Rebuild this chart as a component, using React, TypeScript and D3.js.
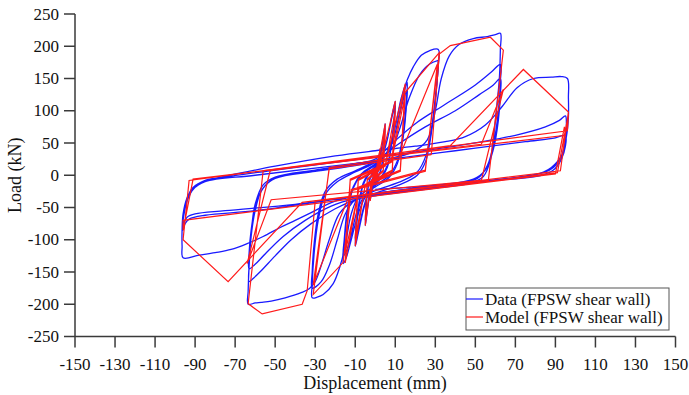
import React from 'react';
import * as d3 from 'd3';

type Pt = [number, number];

const xTicks = [-150, -130, -110, -90, -70, -50, -30, -10, 10, 30, 50, 70, 90, 110, 130, 150];
const yTicks = [-250, -200, -150, -100, -50, 0, 50, 100, 150, 200, 250];

// measured data (blue), split by amplitude group
const blueSmall: Pt[] = [
  [0, 0], [1, 18], [2, 32], [2.5, 40], [2.2, 24], [1.5, 8], [0, -2], [-1, -15], [-2, -30], [-2.5, -38],
  [-2.2, -22], [-1.5, -6], [0, 3], [1, 16], [2, 31], [2.5, 38], [2.2, 22], [1.5, 7], [0, -4], [-2, -20],
  [-3.5, -45], [-4.5, -68], [-5, -78], [-4.6, -55], [-3.8, -25], [-2.5, -5], [0, 8], [2, 22], [3.5, 46],
  [4.5, 70], [5, 80], [4.6, 58], [3.8, 28], [2.5, 6], [0, -8], [-2, -22], [-3.5, -44], [-4.5, -66], [-5, -74],
  [-4.6, -50], [-3.8, -22], [-2.5, -4], [0, 10], [2, 24], [3.5, 48], [4.6, 70], [5, 76], [4.6, 55], [3.8, 25],
  [2.5, 5], [0, -10], [-3, -25], [-6, -55], [-8.5, -90], [-10, -110], [-9.5, -85], [-8, -45], [-6, -15],
  [-3, 2], [0, 12], [3, 25], [6, 55], [8.5, 95], [10, 115], [9.5, 90], [8, 48], [6, 15], [3, -2], [0, -12],
  [-3, -24], [-6, -52], [-8.5, -85], [-10, -102], [-9.5, -78], [-8, -40], [-6, -12], [-3, 4], [0, 14], [3, 27],
  [6, 56], [8.5, 92], [10, 108],
];

const blue15: Pt[] = [
  [10, 108], [9.5, 84], [8, 45], [6, 12], [3, -4], [0, -14], [-4, -28], [-8, -55], [-12, -100], [-14.5, -128],
  [-16, -137], [-15.5, -110], [-14, -60], [-11, -20], [-7, 0], [0, 16], [5, 30], [9, 55], [12, 95], [14.5, 130],
  [16, 144], [15.5, 115], [14, 65], [11, 22], [7, 0], [0, -16], [-5, -30], [-9, -55], [-12, -92], [-14.5, -118],
  [-16, -125], [-15.5, -100], [-14, -55], [-11, -18], [-7, 2], [0, 18], [5, 32], [9, 56], [12, 92], [14.5, 122],
  [16, 132],
];

const blue30: Pt[] = [
  [16, 132], [15.5, 105], [14, 60], [11, 18], [7, -3], [0, -18], [-8, -32], [-12, -60], [-15, -110],
  [-17.5, -140], [-21, -168], [-26, -185], [-29, -189], [-31.5, -190], [-31.5, -170], [-30.5, -120],
  [-28.5, -70], [-25, -30], [-19, -10], [-10, 5], [0, 20], [7, 40], [10, 75], [13, 120], [16, 148], [19, 168],
  [23, 186], [27, 193], [31.5, 195], [31.5, 170], [30, 120], [28, 70], [25.5, 32], [21, 5], [14, -8], [0, -24],
  [-10, -38], [-15, -60], [-19, -100], [-23, -140], [-27, -165], [-31.5, -175], [-31.5, -150], [-30.5, -105],
  [-28.5, -60], [-25, -25], [-19, -6], [-10, 7], [0, 22], [8, 40], [12, 70], [17, 120], [22, 155], [27, 172],
  [31.5, 178],
];

const blue60: Pt[] = [
  [31.5, 178], [31, 150], [29.5, 100], [27.5, 55], [25, 20], [21, 0], [12, -15], [0, -28], [-12, -42],
  [-18, -60], [-23, -100], [-27, -140], [-30, -165], [-33, -176], [-37, -182], [-45, -190], [-52, -195],
  [-57, -197], [-60, -198], [-63.5, -200],
  [-63.5, -180], [-63, -140], [-62, -95], [-60, -55], [-57, -25], [-52, -8], [-45, 0], [-30, 8], [-10, 17],
  [5, 25], [18, 35], [26, 55], [30, 100], [33, 150], [37, 185], [42, 203], [49, 212], [56, 215], [60, 218],
  [62.5, 220],
  [62.5, 195], [62, 150], [61, 116], [59.5, 70], [57.5, 23], [54, -2], [48, -12], [30, -20], [0, -32],
  [-10, -38], [-20, -52], [-32, -75], [-42, -100], [-50, -125], [-57, -148], [-61, -160], [-63, -165],
  [-63, -140], [-62, -90], [-60, -45], [-56, -15], [-50, -3], [-30, 8], [-10, 18], [0, 25], [8, 48], [20, 80],
  [35, 110], [50, 140], [58, 160], [62.5, 172],
  [62.5, 145], [61.5, 100], [59.5, 55], [56, 15], [51, -5], [30, -18], [0, -30], [-10, -36], [-22, -48],
  [-35, -70], [-46, -95], [-55, -122], [-60, -138], [-63, -145],
  [-63, -120], [-62, -85], [-60, -50], [-56, -20], [-50, -5], [-30, 6], [-10, 15], [0, 22], [10, 45], [25, 75],
  [40, 100], [52, 125], [59, 140], [62.5, 150],
  [62.5, 125], [61.5, 85], [59, 40], [55, 8], [49, -6], [30, -16], [0, -28],
];

const blue95: Pt[] = [
  [0, -28], [-20, -40], [-32, -58], [-40, -70], [-47.5, -81], [-56, -95], [-64, -106], [-72, -115], [-80, -120],
  [-88, -124], [-96, -128],
  [-96.5, -110], [-96.5, -85], [-96, -60], [-94, -35], [-91, -19], [-85, -8], [-79, -4], [-50, 14], [-20, 30],
  [0, 38], [20, 45], [35, 52], [45, 60], [55, 78], [63, 105], [71, 136], [79, 150], [88, 152], [93, 153],
  [96, 150],
  [96.5, 120], [96.5, 90], [95.5, 60], [93, 30], [88, 12], [84, 5], [78, 0], [50, -10], [20, -20], [0, -28],
  [-30, -42], [-60, -55], [-85, -62], [-93, -68], [-95, -75], [-96, -85],
  [-96, -70], [-95, -50], [-93, -30], [-89, -15], [-80, -6], [-50, 8], [0, 28], [40, 45], [70, 62], [85, 75],
  [92, 85], [95, 92],
  [95.5, 80], [95, 55], [93, 30], [89, 12], [84, 4], [75, -2], [40, -15], [0, -30], [-40, -45], [-75, -55],
  [-90, -60], [-94, -65], [-96, -75],
  [-95.5, -60], [-94, -40], [-91, -22], [-85, -10], [-60, 0], [0, 22], [40, 38], [75, 52], [90, 58], [95, 62],
  [95, 45], [93, 25], [89, 8], [83, 0], [60, -8], [20, -18], [0, -22],
];

// model (red), piecewise linear
const redSmall: Pt[] = [
  [0, 0], [2.5, 42], [2, 8], [-1, -2], [-2.5, -40], [-2, -8], [1, 2], [2.5, 38],
  [5, 80], [4, 8], [-2, -8], [-5, -78], [-4, -8], [2, 8], [5, 72], [4, 6], [-2, -10], [-5, -70], [-4, -6], [2, 10],
  [10, 115], [8.5, 8], [-5, -14], [-10, -110], [-8.5, -8], [5, 14], [10, 100], [8.5, 6], [-5, -16], [-10, -98],
  [-8.5, -6], [5, 16],
  [15, 142], [12.5, 8], [-8, -18], [-15, -136], [-12.5, -8], [8, 20], [15, 125], [12.5, 6], [-8, -20],
  [-15, -120], [-12.5, -6], [8, 22],
];

const red30: Pt[] = [
  [8, 22], [14, 125], [32, 190], [25, 8], [-12, -22], [-16, -135], [-31, -185], [-23, 12], [12, 28], [31, 172],
  [25, 6], [-12, -24], [-31, -170], [-23, 10], [28, 32],
];

const red60: Pt[] = [
  [28, 32], [32, 188], [37.5, 201], [57.5, 214], [64, 194], [56.5, -8], [-30, -40], [-34, -179], [-36.5, -200],
  [-56.5, -215], [-63.5, -199], [-56, 7], [53, 48], [64, 133], [53, -8], [-52, -38], [-64, -137], [-52.5, 7],
];

const red95: Pt[] = [
  [-52.5, 7], [37.5, 46], [74, 164], [96.5, 98], [92.5, 7], [-36.5, -42], [-73.5, -165], [-96, -100], [-93, -8],
  [96, 69], [96.5, 95], [91, 4], [-96, -70], [-96, -85], [-91, -6], [95, 62], [94.5, 75], [90, 2], [0, -32],
];

const blueSeries = [blueSmall, blue15, blue30, blue60, blue95];
const redSeries = [redSmall, red30, red60, red95];

const WIDTH = 689;
const HEIGHT = 395;
const FONT = '"Liberation Serif", "Times New Roman", serif';

const App: React.FC = () => {
  const x = d3.scaleLinear().domain([-150, 150]).range([75, 675.5]);
  const y = d3.scaleLinear().domain([-250, 250]).range([336.5, 14]);

  const smooth = d3.line<Pt>()
    .x(d => x(d[0]))
    .y(d => y(d[1]))
    .curve(d3.curveCatmullRom.alpha(0.5));
  const straight = d3.line<Pt>()
    .x(d => x(d[0]))
    .y(d => y(d[1]));

  const axisColor = '#3a3a3a';
  const tickLen = 11;

  return (
    <svg
      width={WIDTH}
      height={HEIGHT}
      style={{ position: 'absolute', left: 0, top: 0, background: '#fff' }}
      fontFamily={FONT}
    >
      {/* data curves */}
      {blueSeries.map((s, i) => (
        <path key={`b${i}`} d={smooth(s) || ''} fill="none" stroke="#1a1aff" strokeWidth={1.3} />
      ))}
      {redSeries.map((s, i) => (
        <path key={`r${i}`} d={straight(s) || ''} fill="none" stroke="#ff1a1a" strokeWidth={1.2} />
      ))}

      {/* y axis */}
      <line x1={x(-150)} x2={x(-150)} y1={y(-250)} y2={y(250)} stroke={axisColor} strokeWidth={1.5} />
      {yTicks.map(t => (
        <g key={`y${t}`}>
          <line x1={x(-150) - tickLen} x2={x(-150)} y1={y(t)} y2={y(t)} stroke={axisColor} strokeWidth={1.5} />
          <text x={x(-150) - tickLen - 5} y={y(t)} textAnchor="end" dominantBaseline="central" fontSize={17} fill="#111">
            {t}
          </text>
        </g>
      ))}

      {/* x axis */}
      <line x1={x(-150)} x2={x(150)} y1={y(-250)} y2={y(-250)} stroke={axisColor} strokeWidth={1.5} />
      {xTicks.map(t => (
        <g key={`x${t}`}>
          <line x1={x(t)} x2={x(t)} y1={y(-250)} y2={y(-250) + tickLen} stroke={axisColor} strokeWidth={1.5} />
          <text x={x(t)} y={y(-250) + tickLen + 22} textAnchor="middle" fontSize={17} fill="#111">
            {t}
          </text>
        </g>
      ))}

      {/* axis titles */}
      <text x={375} y={389} textAnchor="middle" fontSize={18} fill="#111">Displacement (mm)</text>
      <text
        transform={`translate(21, ${y(0)}) rotate(-90)`}
        textAnchor="middle"
        fontSize={18}
        fill="#111"
      >
        Load (kN)
      </text>

      {/* legend */}
      <g>
        <rect x={466} y={288} width={203} height={42} fill="#fff" stroke="#555" strokeWidth={1} />
        <line x1={466} x2={483} y1={299} y2={299} stroke="#1a1aff" strokeWidth={1.2} />
        <line x1={466} x2={483} y1={317} y2={317} stroke="#ff1a1a" strokeWidth={1.2} />
        <text x={485} y={299} dominantBaseline="central" fontSize={17} fill="#111">Data (FPSW shear wall)</text>
        <text x={485} y={317} dominantBaseline="central" fontSize={17} fill="#111">Model (FPSW shear wall)</text>
      </g>
    </svg>
  );
};

export default App;
